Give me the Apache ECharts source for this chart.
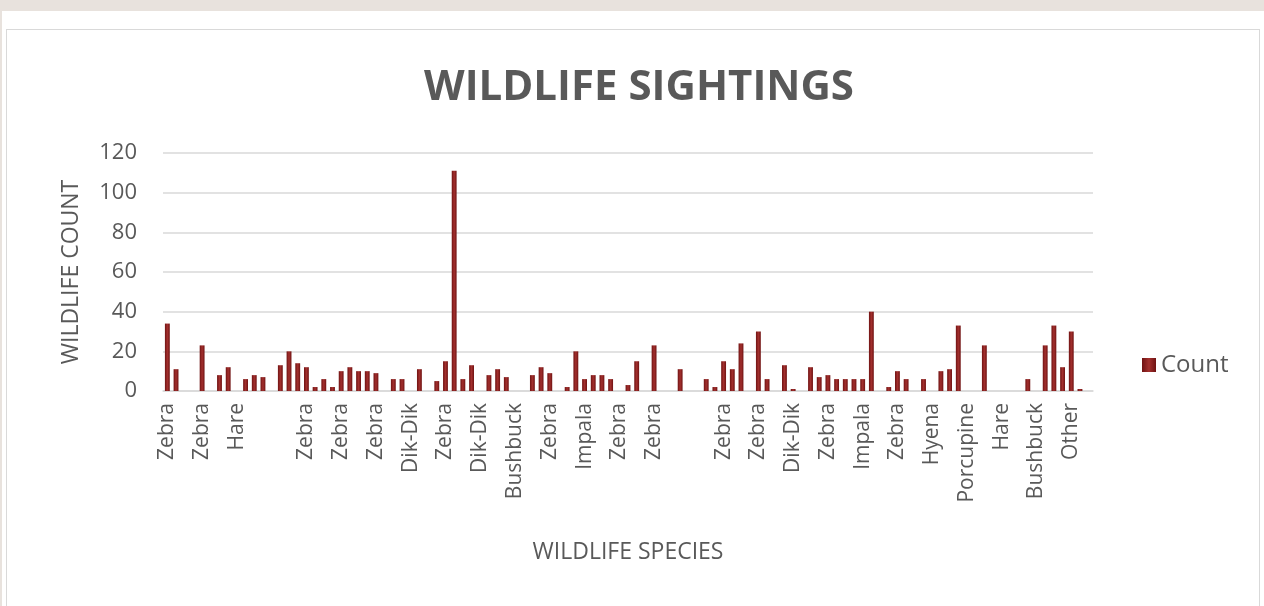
<!DOCTYPE html>
<html>
<head>
<meta charset="utf-8">
<title>Wildlife Sightings</title>
<script src="https://cdn.jsdelivr.net/npm/echarts@6/dist/echarts.min.js"></script>
<style>
  html, body { margin: 0; padding: 0; width: 1264px; height: 606px; overflow: hidden; background: #e8e2dd; }
  .card { position: absolute; left: 2px; top: 11px; right: 0; bottom: -10px; background: #fff; }
  .frame { position: absolute; left: 6px; top: 29px; width: 1254px; height: 600px; border: 1px solid #d9d9d9; box-sizing: border-box; }
  #chart { position: absolute; left: 0; top: 0; width: 1264px; height: 606px; }
</style>
</head>
<body>
<div class="card"></div>
<div class="frame"></div>
<div id="chart"></div>
<script>
// tick labels shown on the x axis (every 4th category, '' where the picture shows none)
var tickLabels = ['Zebra', 'Zebra', 'Hare', '', 'Zebra', 'Zebra', 'Zebra', 'Dik-Dik', 'Zebra',
  'Dik-Dik', 'Bushbuck', 'Zebra', 'Impala', 'Zebra', 'Zebra', '', 'Zebra', 'Zebra', 'Dik-Dik',
  'Zebra', 'Impala', 'Zebra', 'Hyena', 'Porcupine', 'Hare', 'Bushbuck', 'Other']

// counts, one per sighting (107 categories)
var counts = [
  34, 11, 0, 0, 23, 0, 8, 12, 0, 6, 8, 7, 0, 13, 20, 14, 12, 2,
  6, 2, 10, 12, 10, 10, 9, 0, 6, 6, 0, 11, 0, 5, 15, 111, 6, 13,
  0, 8, 11, 7, 0, 0, 8, 12, 9, 0, 2, 20, 6, 8, 8, 6, 0, 3,
  15, 0, 23, 0, 0, 11, 0, 0, 6, 2, 15, 11, 24, 0, 30, 6, 0, 13,
  1, 0, 12, 7, 8, 6, 6, 6, 6, 40, 0, 2, 10, 6, 0, 6, 0, 10,
  11, 33, 0, 0, 23, 0, 0, 0, 0, 6, 0, 23, 33, 12, 30, 1, 0
]

var yTicks = [0, 20, 40, 60, 80, 100, 120]

// category names: the labelled ones from tickLabels, the rest unknown
var categories = counts.map(function (v, i) {
  return i % 4 === 0 ? (tickLabels[i / 4] || '') : ''
})

var barColor = new echarts.graphic.LinearGradient(0, 0, 1, 0, [
  { offset: 0, color: '#6f1212' },
  { offset: 0.5, color: '#a3302e' },
  { offset: 1, color: '#6f1212' }
])

var textColor = '#595959'
var font = 'Open Sans'

var chart = echarts.init(document.getElementById('chart'))
chart.setOption({
  animation: false,
  title: {
    text: 'WILDLIFE SIGHTINGS',
    left: 634,
    top: 62,
    textAlign: 'center',
    textStyle: {
      color: textColor,
      fontFamily: font,
      fontWeight: 'bold',
      fontSize: 42
    }
  },
  legend: {
    data: ['Count'],
    left: 1137,
    top: 348,
    itemWidth: 14,
    itemHeight: 14,
    itemGap: 8,
    icon: 'rect',
    textStyle: { color: textColor, fontFamily: font, fontSize: 24 }
  },
  grid: {
    left: 163,
    right: 171,
    top: 153,
    bottom: 215
  },
  xAxis: {
    type: 'category',
    data: categories,
    name: 'WILDLIFE SPECIES',
    nameLocation: 'middle',
    nameGap: 150,
    nameTextStyle: { color: textColor, fontFamily: font, fontSize: 23 },
    axisLine: { lineStyle: { color: '#d9d9d9', width: 1.5 } },
    axisTick: { show: false },
    axisLabel: {
      interval: 3,
      rotate: 90,
      margin: 12,
      color: textColor,
      fontFamily: font,
      fontSize: 21
    }
  },
  yAxis: {
    type: 'value',
    min: 0,
    max: 120,
    interval: 20,
    name: 'WILDLIFE COUNT',
    nameLocation: 'middle',
    nameGap: 80,
    nameTextStyle: { color: textColor, fontFamily: font, fontSize: 23 },
    axisLine: { show: false },
    axisTick: { show: false },
    splitLine: { lineStyle: { color: '#d9d9d9', width: 1.5 } },
    axisLabel: {
      margin: 26,
      color: textColor,
      fontFamily: font,
      fontSize: 22,
      formatter: function (v) { return yTicks.indexOf(v) >= 0 ? String(v) : '' }
    }
  },
  series: [{
    name: 'Count',
    type: 'bar',
    data: counts,
    barWidth: '56%',
    itemStyle: { color: barColor }
  }]
})
</script>
</body>
</html>
